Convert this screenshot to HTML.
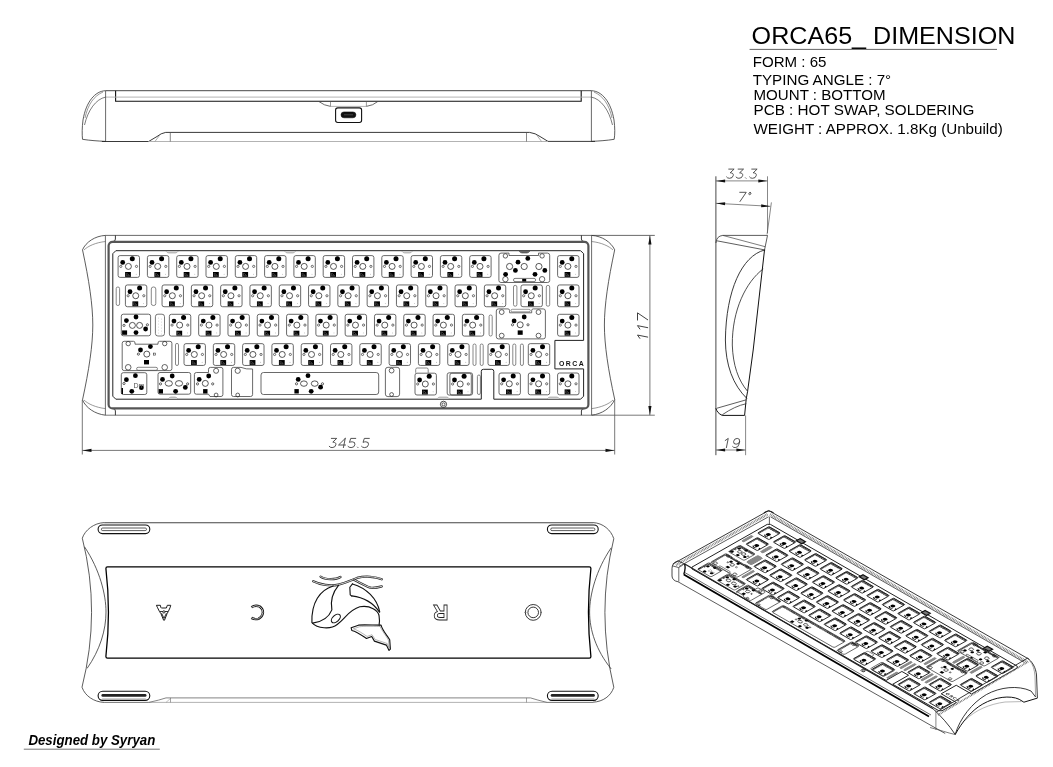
<!DOCTYPE html><html><head><meta charset="utf-8"><style>
html,body{margin:0;padding:0;background:#fff;}
svg{display:block;will-change:transform;}
text{font-family:"Liberation Sans",sans-serif;}
.isoplate *{vector-effect:non-scaling-stroke;}
</style></head><body>
<svg width="1053" height="767" viewBox="0 0 1053 767">
<rect width="1053" height="767" fill="#fff"/>

<defs>
<g id="sw">
 <rect x="0.4" y="0.4" width="21.4" height="21.8" rx="2" fill="#fff" stroke="#444" stroke-width="0.8"/>
 <circle cx="14.6" cy="3.5" r="2.5" fill="#000"/>
 <circle cx="5.0" cy="7.2" r="2.4" fill="#000"/>
 <circle cx="10.7" cy="11.2" r="3.0" fill="none" stroke="#222" stroke-width="0.75"/>
 <circle cx="3.1" cy="11.2" r="1.1" fill="none" stroke="#333" stroke-width="0.7"/>
 <circle cx="18.8" cy="11.2" r="1.1" fill="none" stroke="#333" stroke-width="0.7"/>
 <rect x="7.4" y="16.8" width="5.8" height="4.9" fill="#000"/>
 <path d="M8.6,17.8 V20.6 H12 M9.2,18.2 L11.6,20.2" stroke="#888" stroke-width="0.45" fill="none"/>
 <circle cx="18.5" cy="19" r="0.4" fill="#777"/>
</g>
<g id="isok">
 <rect x="0.4" y="0.4" width="21.4" height="21.8" rx="1.2" fill="#fff" stroke="#222" stroke-width="1.4"/>
 <path d="M1.5,2.2 H21" stroke="#111" stroke-width="4" stroke-dasharray="1.4 0.6" fill="none"/>
 <path d="M1.6,3 V21" stroke="#222" stroke-width="2.8" stroke-dasharray="1.4 0.7" fill="none"/>
 <ellipse cx="12.8" cy="14.2" rx="3.4" ry="3.2" fill="#000"/>
 <path d="M9.5,17.5 Q12.5,21.5 16.5,18.5" stroke="#111" stroke-width="1.6" fill="none"/>
 <path d="M18.5,15.5 L21.6,15.5 L21.6,20 Z" fill="#000"/>
</g>
</defs>

<text x="751.6" y="43.9" font-size="24.6" fill="#000" textLength="263.8" lengthAdjust="spacingAndGlyphs">ORCA65_ DIMENSION</text>
<line x1="749.6" y1="49.4" x2="997" y2="49.4" stroke="#555" stroke-width="0.9"/>
<text x="752.7" y="67.4" font-size="14.1" fill="#000" textLength="73.8" lengthAdjust="spacingAndGlyphs">FORM : 65</text>
<text x="752.7" y="84.6" font-size="14.1" fill="#000" textLength="138.5" lengthAdjust="spacingAndGlyphs">TYPING ANGLE : 7°</text>
<text x="753.5" y="100.0" font-size="14.1" fill="#000" textLength="132.0" lengthAdjust="spacingAndGlyphs">MOUNT : BOTTOM</text>
<text x="753.5" y="115.4" font-size="14.1" fill="#000" textLength="221.0" lengthAdjust="spacingAndGlyphs">PCB : HOT SWAP, SOLDERING</text>
<text x="753.5" y="134.1" font-size="14.1" fill="#000" textLength="249.2" lengthAdjust="spacingAndGlyphs">WEIGHT : APPROX. 1.8Kg (Unbuild)</text>
<text x="28.4" y="744.8" font-size="14.2" font-weight="bold" font-style="italic" fill="#000" textLength="126.9" lengthAdjust="spacingAndGlyphs">Designed by Syryan</text>
<line x1="23.8" y1="749.2" x2="159.8" y2="749.2" stroke="#666" stroke-width="0.9"/>
<g id="front">
<line x1="105.60" y1="90.70" x2="591.40" y2="90.70" stroke="#333" stroke-width="0.9"/>
<path d="M115.6,90.7 V101.2 H581.2 V90.7" stroke="#111" stroke-width="1.1" fill="none" />
<line x1="105.60" y1="97.10" x2="591.40" y2="97.10" stroke="#aaa" stroke-width="0.9"/>
<line x1="105.60" y1="90.70" x2="105.60" y2="141.40" stroke="#444" stroke-width="0.8"/>
<line x1="591.40" y1="90.70" x2="591.40" y2="141.40" stroke="#444" stroke-width="0.8"/>
<path d="M105.6,90.7 C95,91 86,102 83,120 C82,128 82,134 82.5,139.3 C90,140.5 98,141 105.6,141.4" stroke="#333" stroke-width="0.8" fill="none" />
<path d="M105.6,97.1 C96,99 88,110 84.5,125" stroke="#444" stroke-width="0.7" fill="none" />
<path d="M103,92 C94,96 88,104 85,118" stroke="#555" stroke-width="0.6" fill="none" />
<path d="M591.4,90.7 C602,91 611,102 614,120 C615,128 615,134 614.2,139.3 C607,140.5 599,141 591.4,141.4" stroke="#333" stroke-width="0.8" fill="none" />
<path d="M591.4,97.1 C601,99 609,110 612.5,125" stroke="#444" stroke-width="0.7" fill="none" />
<path d="M594,92 C603,96 609,104 612,118" stroke="#555" stroke-width="0.6" fill="none" />
<path d="M101.9,141.5 H148.6 L157,136.5 Q161,133.2 165.7,132.4 H529.6 Q535.5,133.2 540,136.5 L548,141.4 H595" stroke="#222" stroke-width="0.9" fill="none" />
<line x1="148.60" y1="141.50" x2="548.00" y2="141.50" stroke="#aaa" stroke-width="0.9"/>
<line x1="170.30" y1="132.40" x2="170.30" y2="141.50" stroke="#555" stroke-width="0.7"/>
<line x1="526.50" y1="132.40" x2="526.50" y2="141.50" stroke="#555" stroke-width="0.7"/>
<line x1="155.00" y1="141.40" x2="159.50" y2="135.50" stroke="#777" stroke-width="0.6"/>
<line x1="541.50" y1="141.40" x2="537.00" y2="135.50" stroke="#777" stroke-width="0.6"/>
<path d="M319,101.6 Q324,105.5 330.5,106.4" stroke="#444" stroke-width="0.8" fill="none" />
<path d="M366.4,106.4 Q373,105.5 377.7,101.6" stroke="#444" stroke-width="0.8" fill="none" />
<line x1="330.50" y1="106.40" x2="366.40" y2="106.40" stroke="#aaa" stroke-width="0.9"/>
<line x1="330.50" y1="101.60" x2="330.50" y2="106.40" stroke="#555" stroke-width="0.6"/>
<line x1="366.40" y1="101.60" x2="366.40" y2="106.40" stroke="#555" stroke-width="0.6"/>
<rect x="335.6" y="107.9" width="26" height="14.6" rx="2.2" fill="none" stroke="#111" stroke-width="1.1"/>
<rect x="341" y="111.9" width="14.9" height="5.9" rx="2.95" fill="#111" stroke="#000" stroke-width="0.5"/>
<line x1="344.00" y1="114.80" x2="353.00" y2="114.80" stroke="#777" stroke-width="0.5"/>
</g>
<g id="top">
<line x1="105.40" y1="235.40" x2="654.80" y2="235.40" stroke="#444" stroke-width="0.8"/>
<line x1="105.40" y1="415.20" x2="591.60" y2="415.20" stroke="#555" stroke-width="0.8"/>
<line x1="591.60" y1="415.20" x2="654.80" y2="415.20" stroke="#555" stroke-width="0.8"/>
<line x1="105.40" y1="235.40" x2="105.40" y2="415.20" stroke="#444" stroke-width="0.8"/>
<line x1="591.60" y1="235.40" x2="591.60" y2="415.20" stroke="#444" stroke-width="0.8"/>
<path d="M105.4,235.4 C95,236 86,242 82.5,249.8 C89,280 92.8,305 92.8,325 C92.8,345 89,370 82.5,399.9 C86,408 95,414 105.4,415.2" stroke="#333" stroke-width="0.8" fill="none" />
<path d="M105.4,241.5 C96,242.5 88,246 84,250" stroke="#555" stroke-width="0.6" fill="none" />
<path d="M105.4,408.6 C96,407.5 88,404 84,400" stroke="#555" stroke-width="0.6" fill="none" />
<path d="M591.6,235.4 C602,236 611,242 614.7,249.8 C608.2,280 604.4,305 604.4,325 C604.4,345 608.2,370 614.7,399.4 C611,408 602,414 591.6,415.2" stroke="#333" stroke-width="0.8" fill="none" />
<path d="M591.6,241.5 C601,242.5 609,246 613,250" stroke="#555" stroke-width="0.6" fill="none" />
<path d="M591.6,408.6 C601,407.5 609,404 613,400" stroke="#555" stroke-width="0.6" fill="none" />
<path d="M115.4,235.4 V239 Q115.4,241.5 113,241.5" stroke="#222" stroke-width="0.9" fill="none" />
<path d="M581.4,235.4 V239 Q581.4,241.5 584,241.5" stroke="#222" stroke-width="0.9" fill="none" />
<path d="M115.4,415.2 V411 Q115.4,408.6 113,408.6" stroke="#222" stroke-width="0.9" fill="none" />
<path d="M581.4,415.2 V411 Q581.4,408.6 584,408.6" stroke="#222" stroke-width="0.9" fill="none" />
<rect x="108.6" y="241.8" width="479.8" height="166.6" rx="4" fill="none" stroke="#555" stroke-width="2.2"/>
<path d="M115.8,250.7 H580.6 L583.6,253.7 V340.4 H554.9 V368.9 H583.6 V396.2 L580.6,399.2 H493.8 V371.3 Q493.8,369.3 491.8,369.3 H483.3 Q481.3,369.3 481.3,371.3 V399.2 H115.8 L112.8,396.2 V253.7 Z" stroke="#222" stroke-width="1.0" fill="none" />
<path d="M165.8,251 Q167.3,253 168.8,253 H175.4 Q176.9,253 178.4,251" fill="#ccc" stroke="#999" stroke-width="0.6"/>
<path d="M284.4,251 Q285.9,253 287.4,253 H292.8 Q294.3,253 295.8,251" fill="#ccc" stroke="#999" stroke-width="0.6"/>
<path d="M401.6,251 Q403.1,253 404.6,253 H409.6 Q411.1,253 412.6,251" fill="#ccc" stroke="#999" stroke-width="0.6"/>
<path d="M518.9,251 Q520.4,253 522,253 H527 Q528.5,253 530,251" fill="#666" stroke="#444" stroke-width="0.6"/>
<path d="M168,399 Q169.5,397 171,397 H175 Q176.5,397 178,399" fill="#ccc" stroke="#999" stroke-width="0.6"/>
<path d="M436.8,399 Q438.3,397 439.8,397 H446.6 Q448.1,397 449.6,399" fill="#ccc" stroke="#999" stroke-width="0.6"/>
<path d="M547,399 Q548.5,397 550,397 H556.8 Q558.3,397 559.8,399" fill="#ccc" stroke="#999" stroke-width="0.6"/>
</g>
<g id="keys">
<use href="#sw" x="117.70" y="255.20"/>
<use href="#sw" x="147.00" y="255.20"/>
<use href="#sw" x="176.30" y="255.20"/>
<use href="#sw" x="205.60" y="255.20"/>
<use href="#sw" x="234.90" y="255.20"/>
<use href="#sw" x="264.20" y="255.20"/>
<use href="#sw" x="293.50" y="255.20"/>
<use href="#sw" x="322.80" y="255.20"/>
<use href="#sw" x="352.10" y="255.20"/>
<use href="#sw" x="381.40" y="255.20"/>
<use href="#sw" x="410.70" y="255.20"/>
<use href="#sw" x="440.00" y="255.20"/>
<use href="#sw" x="469.30" y="255.20"/>
<use href="#sw" x="557.20" y="255.20"/>
<path d="M501,253.1 H509 V255.5 H538.5 V253.1 H547.5 Q549.7,253.1 549.7,255.5 V280.5 Q549.7,282.5 547.5,282.5 H501 Q498.9,282.5 498.9,280.5 V255.5 Q498.9,253.1 501,253.1 Z" stroke="#444" stroke-width="0.8" fill="none" />
<circle cx="505.40" cy="255.90" r="2.2" fill="none" stroke="#222" stroke-width="0.7"/>
<circle cx="542.10" cy="255.90" r="2.2" fill="none" stroke="#222" stroke-width="0.7"/>
<circle cx="505.40" cy="279.20" r="2.7" fill="none" stroke="#222" stroke-width="0.7"/>
<circle cx="542.10" cy="279.20" r="2.7" fill="none" stroke="#222" stroke-width="0.7"/>
<circle cx="509.60" cy="266.50" r="3.1" fill="none" stroke="#222" stroke-width="0.75"/>
<circle cx="524.20" cy="266.50" r="3.1" fill="none" stroke="#222" stroke-width="0.75"/>
<circle cx="538.90" cy="266.50" r="3.1" fill="none" stroke="#222" stroke-width="0.75"/>
<circle cx="527.80" cy="258.40" r="2.4" fill="#000"/>
<circle cx="518.00" cy="262.20" r="2.4" fill="#000"/>
<circle cx="515.40" cy="270.40" r="2.4" fill="#000"/>
<circle cx="505.60" cy="274.30" r="2.4" fill="#000"/>
<circle cx="535.00" cy="274.30" r="2.4" fill="#000"/>
<circle cx="544.80" cy="270.40" r="2.4" fill="#000"/>
<rect x="513.50" y="278.40" width="22.10" height="3.20" rx="1.5" fill="none" stroke="#444" stroke-width="0.7"/>
<rect x="522.20" y="278.90" width="4" height="2.6" fill="#000"/>
<use href="#sw" x="125.02" y="284.55"/>
<rect x="116.20" y="287.00" width="3.40" height="18.50" rx="1.6" fill="none" stroke="#555" stroke-width="0.7"/>
<rect x="151.30" y="287.00" width="4.50" height="18.50" rx="2" fill="none" stroke="#555" stroke-width="0.7"/>
<use href="#sw" x="161.65" y="284.55"/>
<use href="#sw" x="190.95" y="284.55"/>
<use href="#sw" x="220.25" y="284.55"/>
<use href="#sw" x="249.55" y="284.55"/>
<use href="#sw" x="278.85" y="284.55"/>
<use href="#sw" x="308.15" y="284.55"/>
<use href="#sw" x="337.45" y="284.55"/>
<use href="#sw" x="366.75" y="284.55"/>
<use href="#sw" x="396.05" y="284.55"/>
<use href="#sw" x="425.35" y="284.55"/>
<use href="#sw" x="454.65" y="284.55"/>
<use href="#sw" x="483.95" y="284.55"/>
<use href="#sw" x="520.58" y="284.55"/>
<rect x="513.50" y="285.40" width="3.40" height="20.80" rx="1.6" fill="none" stroke="#555" stroke-width="0.7"/>
<rect x="546.30" y="285.40" width="3.40" height="20.80" rx="1.6" fill="none" stroke="#555" stroke-width="0.7"/>
<use href="#sw" x="557.20" y="284.55"/>
<rect x="121.30" y="314.20" width="29.30" height="21.60" rx="2" fill="none" stroke="#444" stroke-width="0.8"/>
<circle cx="136.00" cy="317.00" r="2.4" fill="#000"/>
<circle cx="126.40" cy="320.60" r="2.4" fill="#000"/>
<circle cx="145.60" cy="329.00" r="2.4" fill="#000"/>
<circle cx="136.00" cy="332.60" r="2.4" fill="#000"/>
<circle cx="132.40" cy="325.40" r="3" fill="none" stroke="#222" stroke-width="0.75"/>
<circle cx="139.60" cy="325.40" r="3" fill="none" stroke="#222" stroke-width="0.75"/>
<circle cx="124.00" cy="325.40" r="1.1" fill="none" stroke="#222" stroke-width="0.7"/>
<circle cx="147.40" cy="324.80" r="1.1" fill="none" stroke="#222" stroke-width="0.7"/>
<rect x="122.10" y="330.40" width="5" height="4.4" fill="#000"/>
<rect x="155.40" y="314.20" width="9.10" height="21.80" rx="2.5" fill="none" stroke="#555" stroke-width="0.8"/>
<circle cx="158.5" cy="318" r="0.35" fill="#666"/><circle cx="161.5" cy="319" r="0.35" fill="#666"/>
<circle cx="158.5" cy="321" r="0.35" fill="#666"/><circle cx="161.5" cy="322" r="0.35" fill="#666"/>
<circle cx="158.5" cy="324" r="0.35" fill="#666"/><circle cx="161.5" cy="325" r="0.35" fill="#666"/>
<circle cx="158.5" cy="327" r="0.35" fill="#666"/><circle cx="161.5" cy="328" r="0.35" fill="#666"/>
<circle cx="158.5" cy="330" r="0.35" fill="#666"/><circle cx="161.5" cy="331" r="0.35" fill="#666"/>
<circle cx="158.5" cy="333" r="0.35" fill="#666"/><circle cx="161.5" cy="334" r="0.35" fill="#666"/>
<use href="#sw" x="168.97" y="313.90"/>
<use href="#sw" x="198.27" y="313.90"/>
<use href="#sw" x="227.57" y="313.90"/>
<use href="#sw" x="256.88" y="313.90"/>
<use href="#sw" x="286.17" y="313.90"/>
<use href="#sw" x="315.48" y="313.90"/>
<use href="#sw" x="344.77" y="313.90"/>
<use href="#sw" x="374.07" y="313.90"/>
<use href="#sw" x="403.38" y="313.90"/>
<use href="#sw" x="432.68" y="313.90"/>
<use href="#sw" x="461.98" y="313.90"/>
<rect x="489.10" y="315.00" width="3.10" height="21.00" rx="1.5" fill="none" stroke="#555" stroke-width="0.7"/>
<path d="M498.5,308.9 H508 Q509.6,308.9 509.6,310.5 V312.8 H531.7 V310.5 Q531.7,308.9 533.3,308.9 H543.2 Q545.4,308.9 545.4,311 V336.8 Q545.4,338.9 543.2,338.9 H498.5 Q496.3,338.9 496.3,336.8 V311 Q496.3,308.9 498.5,308.9 Z" stroke="#444" stroke-width="0.8" fill="none" />
<rect x="511.00" y="309.30" width="19.30" height="2.50" rx="1.2" fill="none" stroke="#555" stroke-width="0.6"/>
<circle cx="501.70" cy="312.10" r="2.4" fill="none" stroke="#222" stroke-width="0.7"/>
<circle cx="538.50" cy="312.10" r="2.4" fill="none" stroke="#222" stroke-width="0.7"/>
<circle cx="501.70" cy="335.60" r="2.4" fill="none" stroke="#222" stroke-width="0.7"/>
<circle cx="538.50" cy="335.60" r="2.4" fill="none" stroke="#222" stroke-width="0.7"/>
<circle cx="524.20" cy="317.00" r="2.4" fill="#000"/>
<circle cx="514.10" cy="320.90" r="2.4" fill="#000"/>
<circle cx="520.20" cy="324.80" r="3" fill="none" stroke="#222" stroke-width="0.75"/>
<circle cx="512.50" cy="324.80" r="1.1" fill="none" stroke="#222" stroke-width="0.7"/>
<circle cx="528.00" cy="324.80" r="1.1" fill="none" stroke="#222" stroke-width="0.7"/>
<rect x="517.70" y="330.40" width="5" height="4.4" fill="#000"/>
<use href="#sw" x="557.20" y="313.90"/>
<path d="M124.2,341.3 H133.5 Q135,341.3 135,343 V344.2 H158 V343 Q158,341.3 159.6,341.3 H169.9 Q171.9,341.3 171.9,343.3 V368.6 Q171.9,370.6 169.9,370.6 H124.2 Q122.2,370.6 122.2,368.6 V343.3 Q122.2,341.3 124.2,341.3 Z" stroke="#444" stroke-width="0.8" fill="none" />
<circle cx="128.20" cy="343.60" r="2.2" fill="none" stroke="#222" stroke-width="0.7"/>
<circle cx="164.70" cy="343.60" r="2.2" fill="none" stroke="#222" stroke-width="0.7"/>
<circle cx="128.20" cy="367.30" r="2.8" fill="none" stroke="#222" stroke-width="0.7"/>
<circle cx="164.70" cy="367.30" r="2.8" fill="none" stroke="#222" stroke-width="0.7"/>
<rect x="136.60" y="367.30" width="20.90" height="3.00" rx="1.5" fill="none" stroke="#555" stroke-width="0.7"/>
<circle cx="150.40" cy="346.60" r="2.4" fill="#000"/>
<circle cx="140.50" cy="350.00" r="2.4" fill="#000"/>
<circle cx="146.80" cy="354.10" r="3" fill="none" stroke="#222" stroke-width="0.75"/>
<circle cx="138.40" cy="354.10" r="1.1" fill="none" stroke="#222" stroke-width="0.7"/>
<rect x="153.6" y="353.1" width="2" height="2" fill="none" stroke="#333" stroke-width="0.6"/>
<rect x="144.00" y="360.00" width="5" height="4.4" fill="#000"/>
<rect x="175.50" y="343.40" width="3.00" height="22.10" rx="1.5" fill="none" stroke="#555" stroke-width="0.7"/>
<use href="#sw" x="183.62" y="343.25"/>
<use href="#sw" x="212.93" y="343.25"/>
<use href="#sw" x="242.22" y="343.25"/>
<use href="#sw" x="271.52" y="343.25"/>
<use href="#sw" x="300.82" y="343.25"/>
<use href="#sw" x="330.12" y="343.25"/>
<use href="#sw" x="359.42" y="343.25"/>
<use href="#sw" x="388.73" y="343.25"/>
<use href="#sw" x="418.02" y="343.25"/>
<use href="#sw" x="447.32" y="343.25"/>
<rect x="473.00" y="344.00" width="3.00" height="21.50" rx="1.5" fill="none" stroke="#555" stroke-width="0.7"/>
<rect x="480.20" y="344.00" width="3.00" height="21.50" rx="1.5" fill="none" stroke="#555" stroke-width="0.7"/>
<use href="#sw" x="487.61" y="343.25"/>
<rect x="512.80" y="344.00" width="3.00" height="21.50" rx="1.5" fill="none" stroke="#555" stroke-width="0.7"/>
<rect x="520.40" y="344.00" width="3.00" height="21.50" rx="1.5" fill="none" stroke="#555" stroke-width="0.7"/>
<use href="#sw" x="527.90" y="343.25"/>
<text x="559" y="365.8" font-size="6.9" font-weight="bold" fill="#111" textLength="24.8" lengthAdjust="spacing">ORCA</text>
<rect x="121.30" y="372.70" width="25.50" height="21.80" rx="2" fill="none" stroke="#444" stroke-width="0.8"/>
<circle cx="135.40" cy="375.70" r="2.4" fill="#000"/>
<circle cx="126.40" cy="379.70" r="2.4" fill="#000"/>
<circle cx="141.40" cy="387.70" r="2.4" fill="#000"/>
<circle cx="131.80" cy="391.30" r="2.4" fill="#000"/>
<text x="133.4" y="387.6" font-size="7" font-family="Liberation Serif" fill="#555">Dm</text>
<circle cx="124.00" cy="383.50" r="1.1" fill="none" stroke="#222" stroke-width="0.7"/>
<rect x="121.5" y="388" width="1.5" height="6" fill="#000"/>
<rect x="158.00" y="372.50" width="32.70" height="21.70" rx="2" fill="none" stroke="#444" stroke-width="0.8"/>
<circle cx="172.20" cy="376.00" r="2.4" fill="#000"/>
<circle cx="162.50" cy="379.40" r="2.4" fill="#000"/>
<circle cx="185.30" cy="387.40" r="2.4" fill="#000"/>
<circle cx="175.60" cy="391.30" r="2.4" fill="#000"/>
<ellipse cx="168.8" cy="383.4" rx="3.6" ry="2.8" fill="none" stroke="#222" stroke-width="0.75"/>
<ellipse cx="179" cy="383.4" rx="3.6" ry="2.8" fill="none" stroke="#222" stroke-width="0.75"/>
<circle cx="160.50" cy="383.90" r="1.1" fill="none" stroke="#222" stroke-width="0.7"/>
<circle cx="187.60" cy="383.90" r="1.1" fill="none" stroke="#222" stroke-width="0.7"/>
<rect x="158.60" y="389.10" width="4.4" height="4.4" fill="#000"/>
<path d="M196.4,372.5 H208.5 V369.4 Q208.5,367.4 210.5,367.4 H221 Q222.9,367.4 222.9,369.4 V394.5 Q222.9,396.5 221,396.5 H210 L208.5,394.2 H196.4 Q194.4,394.2 194.4,392.2 V374.5 Q194.4,372.5 196.4,372.5 Z" stroke="#444" stroke-width="0.8" fill="none" />
<circle cx="208.70" cy="376.00" r="2.4" fill="#000"/>
<circle cx="199.20" cy="379.40" r="2.4" fill="#000"/>
<circle cx="205.30" cy="383.40" r="3" fill="none" stroke="#222" stroke-width="0.75"/>
<circle cx="197.50" cy="383.90" r="1.1" fill="none" stroke="#222" stroke-width="0.7"/>
<circle cx="212.70" cy="383.90" r="1.1" fill="none" stroke="#222" stroke-width="0.7"/>
<rect x="203.10" y="389.10" width="4.4" height="4.4" fill="#000"/>
<circle cx="216.10" cy="370.80" r="2.5" fill="none" stroke="#222" stroke-width="0.7"/>
<circle cx="216.10" cy="395.00" r="1.9" fill="none" stroke="#222" stroke-width="0.7"/>
<path d="M233.5,367.4 H241 Q246,369.5 252.6,369 V394.5 Q252.6,396.5 250.6,396.5 H233.5 Q231.5,396.5 231.5,394.5 V369.4 Q231.5,367.4 233.5,367.4 Z" stroke="#444" stroke-width="0.8" fill="none" />
<circle cx="237.70" cy="370.80" r="2.6" fill="none" stroke="#222" stroke-width="0.7"/>
<circle cx="237.70" cy="395.00" r="1.9" fill="none" stroke="#222" stroke-width="0.7"/>
<rect x="261.00" y="372.50" width="117.70" height="22.00" rx="2.5" fill="none" stroke="#444" stroke-width="0.8"/>
<circle cx="308.00" cy="375.70" r="2.4" fill="#000"/>
<circle cx="298.20" cy="379.40" r="2.4" fill="#000"/>
<circle cx="320.60" cy="387.20" r="2.4" fill="#000"/>
<circle cx="311.20" cy="391.30" r="2.4" fill="#000"/>
<ellipse cx="303.9" cy="383.6" rx="3.4" ry="2.7" fill="none" stroke="#222" stroke-width="0.75"/>
<ellipse cx="314.7" cy="383.6" rx="3.4" ry="2.7" fill="none" stroke="#222" stroke-width="0.75"/>
<circle cx="296.50" cy="383.80" r="1.1" fill="none" stroke="#222" stroke-width="0.7"/>
<circle cx="322.50" cy="383.80" r="1.1" fill="none" stroke="#222" stroke-width="0.7"/>
<rect x="294.40" y="389.10" width="4.4" height="4.4" fill="#000"/>
<rect x="385.40" y="367.30" width="14.20" height="29.30" rx="2.5" fill="none" stroke="#444" stroke-width="0.8"/>
<circle cx="391.60" cy="370.60" r="2.4" fill="none" stroke="#222" stroke-width="0.7"/>
<circle cx="391.60" cy="394.50" r="1.9" fill="none" stroke="#222" stroke-width="0.7"/>
<use href="#sw" x="414.60" y="372.80"/>
<path d="M415.7,372.8 V369.5 Q415.7,368 417.2,368 H426.8 Q428.2,368 428.2,369.5 V372.8" stroke="#555" stroke-width="0.7" fill="none" />
<use href="#sw" x="449.50" y="372.80"/>
<rect x="447.20" y="372.80" width="25.40" height="22.30" rx="2" fill="none" stroke="#444" stroke-width="0.8"/>
<rect x="477.40" y="375.00" width="3.00" height="19.50" rx="1.5" fill="none" stroke="#555" stroke-width="0.7"/>
<use href="#sw" x="498.60" y="372.60"/>
<use href="#sw" x="527.90" y="372.60"/>
<use href="#sw" x="557.20" y="372.60"/>
<circle cx="443.50" cy="404.30" r="3.1" fill="none" stroke="#222" stroke-width="0.8"/>
<circle cx="443.50" cy="404.30" r="1.5" fill="none" stroke="#222" stroke-width="0.7"/>
</g>
<g id="dims">
<line x1="82.30" y1="400.00" x2="82.30" y2="454.50" stroke="#555" stroke-width="0.8"/>
<line x1="614.70" y1="399.50" x2="614.70" y2="454.50" stroke="#555" stroke-width="0.8"/>
<line x1="82.30" y1="450.40" x2="614.70" y2="450.40" stroke="#555" stroke-width="0.8"/>
<path d="M82.50,450.40 L91.50,448.80 L91.50,452.00 Z" fill="#111"/>
<path d="M614.50,450.40 L605.50,452.00 L605.50,448.80 Z" fill="#111"/>
<g transform="" fill="none" stroke="#333" stroke-width="0.8" stroke-linecap="round" stroke-linejoin="round">
<path transform="matrix(1.0,0,-0.200,1.0,330.44,438.40)" d="M0.9,0 H6.3 L3.1,3.7 Q6.7,3.9 6.7,6.4 Q6.7,9.2 3.5,9.2 Q1.3,9.2 0.3,7.9"/>
<path transform="matrix(1.0,0,-0.200,1.0,339.84,438.40)" d="M5.4,0 L0,6.6 H7 M5.4,0 V9.2"/>
<path transform="matrix(1.0,0,-0.200,1.0,349.24,438.40)" d="M6.5,0 H1.5 L1,4 Q2.1,3.4 3.7,3.4 Q6.9,3.4 6.9,6.3 Q6.9,9.2 3.7,9.2 Q1.4,9.2 0.3,8"/>
<path transform="matrix(1.0,0,-0.200,1.0,358.64,438.40)" d="M0.6,8.7 L1.2,9.2"/>
<path transform="matrix(1.0,0,-0.200,1.0,362.84,438.40)" d="M6.5,0 H1.5 L1,4 Q2.1,3.4 3.7,3.4 Q6.9,3.4 6.9,6.3 Q6.9,9.2 3.7,9.2 Q1.4,9.2 0.3,8"/>
</g>
<line x1="649.90" y1="235.40" x2="649.90" y2="415.20" stroke="#555" stroke-width="0.8"/>
<path d="M649.90,235.60 L651.50,244.60 L648.30,244.60 Z" fill="#111"/>
<path d="M649.90,415.00 L648.30,406.00 L651.50,406.00 Z" fill="#111"/>
<g transform="rotate(-90 0 0) " fill="none" stroke="#333" stroke-width="0.8" stroke-linecap="round" stroke-linejoin="round">
<path transform="matrix(1.108695652173913,0,-0.222,1.108695652173913,-339.26,637.50)" d="M1.2,2.1 L3.8,0 V9.2"/>
<path transform="matrix(1.108695652173913,0,-0.222,1.108695652173913,-329.84,637.50)" d="M1.2,2.1 L3.8,0 V9.2"/>
<path transform="matrix(1.108695652173913,0,-0.222,1.108695652173913,-320.41,637.50)" d="M0.3,0 H6.8 L2.4,9.2"/>
</g>
</g>
<g id="side">
<line x1="715.90" y1="176.30" x2="715.90" y2="455.20" stroke="#333" stroke-width="0.9"/>
<line x1="767.50" y1="176.30" x2="767.50" y2="233.00" stroke="#555" stroke-width="0.7"/>
<line x1="715.90" y1="180.90" x2="767.50" y2="180.90" stroke="#555" stroke-width="0.7"/>
<path d="M716.10,180.90 L725.10,179.40 L725.10,182.40 Z" fill="#111"/>
<path d="M767.30,180.90 L758.30,182.40 L758.30,179.40 Z" fill="#111"/>
<g transform="" fill="none" stroke="#333" stroke-width="0.8" stroke-linecap="round" stroke-linejoin="round">
<path transform="matrix(1.0,0,-0.200,1.0,727.84,169.10)" d="M0.9,0 H6.3 L3.1,3.7 Q6.7,3.9 6.7,6.4 Q6.7,9.2 3.5,9.2 Q1.3,9.2 0.3,7.9"/>
<path transform="matrix(1.0,0,-0.200,1.0,737.24,169.10)" d="M0.9,0 H6.3 L3.1,3.7 Q6.7,3.9 6.7,6.4 Q6.7,9.2 3.5,9.2 Q1.3,9.2 0.3,7.9"/>
<path transform="matrix(1.0,0,-0.200,1.0,746.64,169.10)" d="M0.6,8.7 L1.2,9.2"/>
<path transform="matrix(1.0,0,-0.200,1.0,750.84,169.10)" d="M0.9,0 H6.3 L3.1,3.7 Q6.7,3.9 6.7,6.4 Q6.7,9.2 3.5,9.2 Q1.3,9.2 0.3,7.9"/>
</g>
<line x1="715.90" y1="203.30" x2="770.40" y2="206.30" stroke="#555" stroke-width="0.7"/>
<path d="M716.10,203.30 L725.17,202.30 L725.00,205.29 Z" fill="#111"/>
<path d="M770.20,206.30 L761.13,207.30 L761.30,204.31 Z" fill="#111"/>
<g transform="" fill="none" stroke="#333" stroke-width="0.8" stroke-linecap="round" stroke-linejoin="round">
<path transform="matrix(1.0,0,-0.200,1.0,739.44,192.30)" d="M0.3,0 H6.8 L2.4,9.2"/>
<path transform="matrix(1.0,0,-0.200,1.0,748.84,192.30)" d="M1.3,0.2 A1.1,1.1 0 1 1 1.29,0.2 Z"/>
</g>
<line x1="771.40" y1="202.40" x2="767.10" y2="234.30" stroke="#555" stroke-width="0.7"/>
<path d="M715.9,243 Q716.5,236 722.8,235.4 H767.5 L764.5,250" stroke="#333" stroke-width="0.8" fill="none" />
<line x1="716.90" y1="240.80" x2="765.20" y2="250.00" stroke="#333" stroke-width="0.8"/>
<line x1="722.80" y1="235.40" x2="765.20" y2="246.70" stroke="#444" stroke-width="0.7"/>
<path d="M764.5,250 L753.2,350 L747.6,391.3 L746.2,399 L744.6,415.4 H722.2 Q717,413 715.9,408.2" stroke="#111" stroke-width="1.0" fill="none" />
<path d="M764.5,250 C742,256 726,290 725.4,340 C725.5,365 733,385 746.9,398.5" stroke="#222" stroke-width="0.9" fill="none" />
<path d="M763.2,268.9 C746,282 732,310 732.3,345 C733,365 738,380 747.6,391.3" stroke="#222" stroke-width="0.8" fill="none" />
<line x1="717.00" y1="408.20" x2="746.30" y2="399.80" stroke="#333" stroke-width="0.8"/>
<path d="M722.2,414.8 Q735,406 746.3,403.7" stroke="#333" stroke-width="0.8" fill="none" />
<line x1="745.60" y1="415.40" x2="745.60" y2="455.20" stroke="#555" stroke-width="0.7"/>
<line x1="715.90" y1="450.00" x2="745.60" y2="450.00" stroke="#555" stroke-width="0.7"/>
<path d="M716.10,450.00 L725.10,448.50 L725.10,451.50 Z" fill="#111"/>
<path d="M745.40,450.00 L736.40,451.50 L736.40,448.50 Z" fill="#111"/>
<g transform="" fill="none" stroke="#333" stroke-width="0.8" stroke-linecap="round" stroke-linejoin="round">
<path transform="matrix(1.0,0,-0.200,1.0,724.44,438.40)" d="M1.2,2.1 L3.8,0 V9.2"/>
<path transform="matrix(1.0,0,-0.200,1.0,733.84,438.40)" d="M6.4,3 Q6.4,0 3.4,0 Q0.4,0 0.4,3 Q0.4,5.8 3.4,5.8 Q6.4,5.8 6.4,3 V5.5 Q6.4,9.2 3.2,9.2 Q1.2,9.2 0.4,8.2"/>
</g>
</g>
<g id="bottom">
<line x1="104.20" y1="522.80" x2="593.00" y2="522.80" stroke="#444" stroke-width="1.1"/>
<line x1="104.20" y1="702.40" x2="148.90" y2="702.40" stroke="#666" stroke-width="0.9"/>
<line x1="148.90" y1="702.40" x2="547.00" y2="702.40" stroke="#aaa" stroke-width="0.9"/>
<line x1="547.00" y1="702.40" x2="593.00" y2="702.40" stroke="#666" stroke-width="0.9"/>
<path d="M104.2,522.6 C94,523 85,530 82.3,538.2 Q101,612 82,687.2 C85,696 94,702 104.2,702.4" stroke="#333" stroke-width="0.8" fill="none" />
<path d="M84.5,546.8 C100,570 106,595 106,612 C106,630 100,650 87.1,668.4" stroke="#333" stroke-width="0.8" fill="none" />
<path d="M593,522.6 C603,523 611,530 613.8,538.7 Q596,612 613.8,687.3 C611,696 603,701.7 593,702.2" stroke="#333" stroke-width="0.8" fill="none" />
<path d="M611.2,547.8 C596,570 589.6,595 589.6,612 C589.6,630 596,650 611.2,669" stroke="#333" stroke-width="0.8" fill="none" />
<path d="M107.5,566.8 H589.3 Q590.9,566.8 590.9,568.5 Q586,612 590.9,656.5 Q590.9,658.1 589.3,658.1 H107.5 Q105.9,658.1 105.9,656.5 Q111,612 105.9,568.5 Q105.9,566.8 107.5,566.8 Z" stroke="#000" stroke-width="1.3" fill="none" />
<rect x="98.10" y="525.00" width="51.70" height="8.60" rx="4.3" fill="none" stroke="#111" stroke-width="1.1"/>
<rect x="101.40" y="528.00" width="45.10" height="2.60" rx="1.3" fill="none" stroke="#333" stroke-width="0.8"/>
<rect x="98.10" y="691.20" width="51.70" height="9.20" rx="4.6" fill="none" stroke="#111" stroke-width="1.1"/>
<rect x="101.4" y="694.0" width="45.1" height="2.8" rx="1.4" fill="#222"/>
<line x1="102.10" y1="699.00" x2="145.80" y2="699.00" stroke="#999" stroke-width="0.9"/>
<rect x="547.40" y="525.00" width="50.80" height="8.60" rx="4.3" fill="none" stroke="#111" stroke-width="1.1"/>
<rect x="550.70" y="528.00" width="44.20" height="2.60" rx="1.3" fill="none" stroke="#333" stroke-width="0.8"/>
<rect x="547.40" y="691.20" width="50.80" height="9.20" rx="4.6" fill="none" stroke="#111" stroke-width="1.1"/>
<rect x="550.7" y="694.0" width="44.2" height="2.8" rx="1.4" fill="#222"/>
<line x1="551.40" y1="699.00" x2="594.20" y2="699.00" stroke="#999" stroke-width="0.9"/>
<path d="M148.9,702.4 Q160,700 166,697.9 H530.5 Q537,700 547,702.4" stroke="#666" stroke-width="0.8" fill="none" />
<line x1="170.50" y1="697.90" x2="170.50" y2="702.40" stroke="#666" stroke-width="0.6"/>
<line x1="526.50" y1="697.90" x2="526.50" y2="702.40" stroke="#666" stroke-width="0.6"/>
<line x1="166.00" y1="702.40" x2="171.00" y2="698.00" stroke="#888" stroke-width="0.5"/>
<path d="M156.4,605.3 H160.4 L160.75,607.3 L161.4,608 H166.4 L167.3,605.3 H170.75 L170,607.8 L168.25,611.6 L167,613.75 L164.5,620.2 H163.6 L161,613.75 L159.5,611.6 L157.3,607.2 Z" stroke="#111" stroke-width="0.95" fill="none" />
<path d="M159.8,611.5 H168 M161.6,613.2 L164,618.4 L166.4,613.2" stroke="#111" stroke-width="0.85" fill="none" />
<circle cx="163.9" cy="611.9" r="1.15" fill="#fff" stroke="#111" stroke-width="0.85"/>
<path d="M251.4,607.2 Q255.5,604.6 259.8,606.5 Q263.2,609.2 262.9,612.6 Q262.5,616.8 258.4,618.8 Q254.6,619.8 251.4,617.9" fill="none" stroke="#111" stroke-width="2.4"/>
<path d="M251.4,607.2 Q255.5,604.6 259.8,606.5 Q263.2,609.2 262.9,612.6 Q262.5,616.8 258.4,618.8 Q254.6,619.8 251.4,617.9" fill="none" stroke="#fff" stroke-width="0.7"/>
<g transform="rotate(180 440.7 612.6)"><text x="440.7" y="620.3" font-size="21.4" text-anchor="middle" fill="#fff" stroke="#222" stroke-width="0.8" font-weight="bold">R</text></g>
<circle cx="533.20" cy="612.40" r="7.9" fill="none" stroke="#222" stroke-width="0.9"/>
<circle cx="533.20" cy="612.40" r="5.3" fill="none" stroke="#222" stroke-width="0.9"/>
<line x1="524.50" y1="612.40" x2="526.50" y2="612.40" stroke="#444" stroke-width="0.6"/>
<line x1="540.00" y1="612.40" x2="542.00" y2="612.40" stroke="#444" stroke-width="0.6"/>
</g>
<g transform="translate(280,560) scale(0.13298)" fill="none" stroke="#111" stroke-width="8.5" stroke-linecap="round" stroke-linejoin="round">
<path d="M305,125 C340,150 420,150 455,128" stroke="#222" stroke-width="17"/>
<path d="M305,125 C340,150 420,150 455,128" stroke="#fff" stroke-width="6"/>
<path d="M250,160 C300,185 380,200 440,185 C500,170 540,150 580,135 C640,118 720,125 765,145" stroke="#222" stroke-width="17"/>
<path d="M250,160 C300,185 380,200 440,185 C500,170 540,150 580,135 C640,118 720,125 765,145" stroke="#fff" stroke-width="6"/>
<path d="M560,150 C600,170 640,195 680,208 C710,212 740,205 765,198" stroke="#222" stroke-width="17"/>
<path d="M560,150 C600,170 640,195 680,208 C710,212 740,205 765,198" stroke="#fff" stroke-width="6"/>
<path d="M400,195 C300,225 235,320 240,470 C280,515 380,525 430,485 C490,440 520,375 600,352 C680,338 740,380 745,420 C750,450 748,475 745,490"/>
<path d="M440,190 C390,250 380,320 390,375 C370,425 320,465 245,475"/>
<ellipse cx="420" cy="440" rx="40" ry="24" transform="rotate(-42 420 440)"/>
<path d="M545,180 C650,210 730,290 750,390"/>
<path d="M540,270 C620,280 700,320 748,392"/>
<path d="M545,180 L525,205 L528,262 L540,272"/>
<path d="M745,490 C700,490 620,485 590,490 L535,510 L540,530 C580,540 620,570 650,590 L690,575 L710,610 L800,640 L820,680 L830,670 L825,600 C800,560 770,530 760,490 Z"/>
<path d="M600,492 L740,488" stroke="#666" stroke-width="5"/>
<path d="M752,500 C730,500 625,497 598,502 L552,517 C590,530 625,555 655,575 L692,562 L716,598 L806,628 L822,664 L815,602 C795,565 768,535 752,500" stroke="#777" stroke-width="4"/>
</g>
<g id="iso">
<path d="M768.7,510.5 L1029.2,659.3" stroke="#222" stroke-width="0.9" fill="none" />
<path d="M770,514.3 L1027,661.8" stroke="#777" stroke-width="2.6" fill="none" stroke-dasharray="0.8 0.8"/>
<path d="M770.5,516.8 L1024.5,662.5" stroke="#333" stroke-width="0.8" fill="none" />
<path d="M768.7,510.5 L672.8,564.0" stroke="#222" stroke-width="0.9" fill="none" />
<path d="M767.5,514.3 L676,565" stroke="#777" stroke-width="2.6" fill="none" stroke-dasharray="0.8 0.8"/>
<path d="M768.5,516.8 L679,566.5" stroke="#333" stroke-width="0.8" fill="none" />
<path d="M764,513 Q768.7,509 773.5,513" stroke="#222" stroke-width="1.2" fill="none" />
<line x1="769.40" y1="516.70" x2="769.40" y2="524.20" stroke="#333" stroke-width="0.8"/>
</g>
<g transform="matrix(0.5311,0.3051,-0.5281,0.2998,841.3,413.9)" class="isoplate">
<path d="M115.8,250.7 H580.6 L583.6,253.7 V340.4 H554.9 V368.9 H583.6 V396.2 L580.6,399.2 H493.8 V369.3 H481.3 V399.2 H115.8 L112.8,396.2 V253.7 Z" stroke="#222" stroke-width="1.0" fill="none" />
<g >
<use href="#isok" x="117.70" y="255.20"/>
<use href="#isok" x="147.00" y="255.20"/>
<use href="#isok" x="176.30" y="255.20"/>
<use href="#isok" x="205.60" y="255.20"/>
<use href="#isok" x="234.90" y="255.20"/>
<use href="#isok" x="264.20" y="255.20"/>
<use href="#isok" x="293.50" y="255.20"/>
<use href="#isok" x="322.80" y="255.20"/>
<use href="#isok" x="352.10" y="255.20"/>
<use href="#isok" x="381.40" y="255.20"/>
<use href="#isok" x="410.70" y="255.20"/>
<use href="#isok" x="440.00" y="255.20"/>
<use href="#isok" x="469.30" y="255.20"/>
<use href="#isok" x="557.20" y="255.20"/>
<path d="M501,253.1 H509 V255.5 H538.5 V253.1 H547.5 Q549.7,253.1 549.7,255.5 V280.5 Q549.7,282.5 547.5,282.5 H501 Q498.9,282.5 498.9,280.5 V255.5 Q498.9,253.1 501,253.1 Z" stroke="#444" stroke-width="0.8" fill="none" />
<circle cx="505.40" cy="255.90" r="2.2" fill="none" stroke="#222" stroke-width="0.7"/>
<circle cx="542.10" cy="255.90" r="2.2" fill="none" stroke="#222" stroke-width="0.7"/>
<circle cx="505.40" cy="279.20" r="2.7" fill="none" stroke="#222" stroke-width="0.7"/>
<circle cx="542.10" cy="279.20" r="2.7" fill="none" stroke="#222" stroke-width="0.7"/>
<circle cx="509.60" cy="266.50" r="3.1" fill="none" stroke="#222" stroke-width="0.75"/>
<circle cx="524.20" cy="266.50" r="3.1" fill="none" stroke="#222" stroke-width="0.75"/>
<circle cx="538.90" cy="266.50" r="3.1" fill="none" stroke="#222" stroke-width="0.75"/>
<circle cx="527.80" cy="258.40" r="2.4" fill="#000"/>
<circle cx="518.00" cy="262.20" r="2.4" fill="#000"/>
<circle cx="515.40" cy="270.40" r="2.4" fill="#000"/>
<circle cx="505.60" cy="274.30" r="2.4" fill="#000"/>
<circle cx="535.00" cy="274.30" r="2.4" fill="#000"/>
<circle cx="544.80" cy="270.40" r="2.4" fill="#000"/>
<rect x="513.50" y="278.40" width="22.10" height="3.20" rx="1.5" fill="none" stroke="#444" stroke-width="0.7"/>
<rect x="522.20" y="278.90" width="4" height="2.6" fill="#000"/>
<use href="#isok" x="125.02" y="284.55"/>
<rect x="116.20" y="287.00" width="3.40" height="18.50" rx="1.6" fill="none" stroke="#555" stroke-width="0.7"/>
<rect x="151.30" y="287.00" width="4.50" height="18.50" rx="2" fill="none" stroke="#555" stroke-width="0.7"/>
<use href="#isok" x="161.65" y="284.55"/>
<use href="#isok" x="190.95" y="284.55"/>
<use href="#isok" x="220.25" y="284.55"/>
<use href="#isok" x="249.55" y="284.55"/>
<use href="#isok" x="278.85" y="284.55"/>
<use href="#isok" x="308.15" y="284.55"/>
<use href="#isok" x="337.45" y="284.55"/>
<use href="#isok" x="366.75" y="284.55"/>
<use href="#isok" x="396.05" y="284.55"/>
<use href="#isok" x="425.35" y="284.55"/>
<use href="#isok" x="454.65" y="284.55"/>
<use href="#isok" x="483.95" y="284.55"/>
<use href="#isok" x="520.58" y="284.55"/>
<rect x="513.50" y="285.40" width="3.40" height="20.80" rx="1.6" fill="none" stroke="#555" stroke-width="0.7"/>
<rect x="546.30" y="285.40" width="3.40" height="20.80" rx="1.6" fill="none" stroke="#555" stroke-width="0.7"/>
<use href="#isok" x="557.20" y="284.55"/>
<rect x="121.30" y="314.20" width="29.30" height="21.60" rx="2" fill="none" stroke="#444" stroke-width="0.8"/>
<circle cx="136.00" cy="317.00" r="2.4" fill="#000"/>
<circle cx="126.40" cy="320.60" r="2.4" fill="#000"/>
<circle cx="145.60" cy="329.00" r="2.4" fill="#000"/>
<circle cx="136.00" cy="332.60" r="2.4" fill="#000"/>
<circle cx="132.40" cy="325.40" r="3" fill="none" stroke="#222" stroke-width="0.75"/>
<circle cx="139.60" cy="325.40" r="3" fill="none" stroke="#222" stroke-width="0.75"/>
<circle cx="124.00" cy="325.40" r="1.1" fill="none" stroke="#222" stroke-width="0.7"/>
<circle cx="147.40" cy="324.80" r="1.1" fill="none" stroke="#222" stroke-width="0.7"/>
<rect x="122.10" y="330.40" width="5" height="4.4" fill="#000"/>
<rect x="155.40" y="314.20" width="9.10" height="21.80" rx="2.5" fill="none" stroke="#555" stroke-width="0.8"/>
<circle cx="158.5" cy="318" r="0.35" fill="#666"/><circle cx="161.5" cy="319" r="0.35" fill="#666"/>
<circle cx="158.5" cy="321" r="0.35" fill="#666"/><circle cx="161.5" cy="322" r="0.35" fill="#666"/>
<circle cx="158.5" cy="324" r="0.35" fill="#666"/><circle cx="161.5" cy="325" r="0.35" fill="#666"/>
<circle cx="158.5" cy="327" r="0.35" fill="#666"/><circle cx="161.5" cy="328" r="0.35" fill="#666"/>
<circle cx="158.5" cy="330" r="0.35" fill="#666"/><circle cx="161.5" cy="331" r="0.35" fill="#666"/>
<circle cx="158.5" cy="333" r="0.35" fill="#666"/><circle cx="161.5" cy="334" r="0.35" fill="#666"/>
<use href="#isok" x="168.97" y="313.90"/>
<use href="#isok" x="198.27" y="313.90"/>
<use href="#isok" x="227.57" y="313.90"/>
<use href="#isok" x="256.88" y="313.90"/>
<use href="#isok" x="286.17" y="313.90"/>
<use href="#isok" x="315.48" y="313.90"/>
<use href="#isok" x="344.77" y="313.90"/>
<use href="#isok" x="374.07" y="313.90"/>
<use href="#isok" x="403.38" y="313.90"/>
<use href="#isok" x="432.68" y="313.90"/>
<use href="#isok" x="461.98" y="313.90"/>
<rect x="489.10" y="315.00" width="3.10" height="21.00" rx="1.5" fill="none" stroke="#555" stroke-width="0.7"/>
<path d="M498.5,308.9 H508 Q509.6,308.9 509.6,310.5 V312.8 H531.7 V310.5 Q531.7,308.9 533.3,308.9 H543.2 Q545.4,308.9 545.4,311 V336.8 Q545.4,338.9 543.2,338.9 H498.5 Q496.3,338.9 496.3,336.8 V311 Q496.3,308.9 498.5,308.9 Z" stroke="#444" stroke-width="0.8" fill="none" />
<rect x="511.00" y="309.30" width="19.30" height="2.50" rx="1.2" fill="none" stroke="#555" stroke-width="0.6"/>
<circle cx="501.70" cy="312.10" r="2.4" fill="none" stroke="#222" stroke-width="0.7"/>
<circle cx="538.50" cy="312.10" r="2.4" fill="none" stroke="#222" stroke-width="0.7"/>
<circle cx="501.70" cy="335.60" r="2.4" fill="none" stroke="#222" stroke-width="0.7"/>
<circle cx="538.50" cy="335.60" r="2.4" fill="none" stroke="#222" stroke-width="0.7"/>
<circle cx="524.20" cy="317.00" r="2.4" fill="#000"/>
<circle cx="514.10" cy="320.90" r="2.4" fill="#000"/>
<circle cx="520.20" cy="324.80" r="3" fill="none" stroke="#222" stroke-width="0.75"/>
<circle cx="512.50" cy="324.80" r="1.1" fill="none" stroke="#222" stroke-width="0.7"/>
<circle cx="528.00" cy="324.80" r="1.1" fill="none" stroke="#222" stroke-width="0.7"/>
<rect x="517.70" y="330.40" width="5" height="4.4" fill="#000"/>
<use href="#isok" x="557.20" y="313.90"/>
<path d="M124.2,341.3 H133.5 Q135,341.3 135,343 V344.2 H158 V343 Q158,341.3 159.6,341.3 H169.9 Q171.9,341.3 171.9,343.3 V368.6 Q171.9,370.6 169.9,370.6 H124.2 Q122.2,370.6 122.2,368.6 V343.3 Q122.2,341.3 124.2,341.3 Z" stroke="#444" stroke-width="0.8" fill="none" />
<circle cx="128.20" cy="343.60" r="2.2" fill="none" stroke="#222" stroke-width="0.7"/>
<circle cx="164.70" cy="343.60" r="2.2" fill="none" stroke="#222" stroke-width="0.7"/>
<circle cx="128.20" cy="367.30" r="2.8" fill="none" stroke="#222" stroke-width="0.7"/>
<circle cx="164.70" cy="367.30" r="2.8" fill="none" stroke="#222" stroke-width="0.7"/>
<rect x="136.60" y="367.30" width="20.90" height="3.00" rx="1.5" fill="none" stroke="#555" stroke-width="0.7"/>
<circle cx="150.40" cy="346.60" r="2.4" fill="#000"/>
<circle cx="140.50" cy="350.00" r="2.4" fill="#000"/>
<circle cx="146.80" cy="354.10" r="3" fill="none" stroke="#222" stroke-width="0.75"/>
<circle cx="138.40" cy="354.10" r="1.1" fill="none" stroke="#222" stroke-width="0.7"/>
<rect x="153.6" y="353.1" width="2" height="2" fill="none" stroke="#333" stroke-width="0.6"/>
<rect x="144.00" y="360.00" width="5" height="4.4" fill="#000"/>
<rect x="175.50" y="343.40" width="3.00" height="22.10" rx="1.5" fill="none" stroke="#555" stroke-width="0.7"/>
<use href="#isok" x="183.62" y="343.25"/>
<use href="#isok" x="212.93" y="343.25"/>
<use href="#isok" x="242.22" y="343.25"/>
<use href="#isok" x="271.52" y="343.25"/>
<use href="#isok" x="300.82" y="343.25"/>
<use href="#isok" x="330.12" y="343.25"/>
<use href="#isok" x="359.42" y="343.25"/>
<use href="#isok" x="388.73" y="343.25"/>
<use href="#isok" x="418.02" y="343.25"/>
<use href="#isok" x="447.32" y="343.25"/>
<rect x="473.00" y="344.00" width="3.00" height="21.50" rx="1.5" fill="none" stroke="#555" stroke-width="0.7"/>
<rect x="480.20" y="344.00" width="3.00" height="21.50" rx="1.5" fill="none" stroke="#555" stroke-width="0.7"/>
<use href="#isok" x="487.61" y="343.25"/>
<rect x="512.80" y="344.00" width="3.00" height="21.50" rx="1.5" fill="none" stroke="#555" stroke-width="0.7"/>
<rect x="520.40" y="344.00" width="3.00" height="21.50" rx="1.5" fill="none" stroke="#555" stroke-width="0.7"/>
<use href="#isok" x="527.90" y="343.25"/>
<text x="559" y="365.8" font-size="6.9" font-weight="bold" fill="#111" textLength="24.8" lengthAdjust="spacing">ORCA</text>
<rect x="121.30" y="372.70" width="25.50" height="21.80" rx="2" fill="none" stroke="#444" stroke-width="0.8"/>
<circle cx="135.40" cy="375.70" r="2.4" fill="#000"/>
<circle cx="126.40" cy="379.70" r="2.4" fill="#000"/>
<circle cx="141.40" cy="387.70" r="2.4" fill="#000"/>
<circle cx="131.80" cy="391.30" r="2.4" fill="#000"/>
<text x="133.4" y="387.6" font-size="7" font-family="Liberation Serif" fill="#555">Dm</text>
<circle cx="124.00" cy="383.50" r="1.1" fill="none" stroke="#222" stroke-width="0.7"/>
<rect x="121.5" y="388" width="1.5" height="6" fill="#000"/>
<rect x="158.00" y="372.50" width="32.70" height="21.70" rx="2" fill="none" stroke="#444" stroke-width="0.8"/>
<circle cx="172.20" cy="376.00" r="2.4" fill="#000"/>
<circle cx="162.50" cy="379.40" r="2.4" fill="#000"/>
<circle cx="185.30" cy="387.40" r="2.4" fill="#000"/>
<circle cx="175.60" cy="391.30" r="2.4" fill="#000"/>
<ellipse cx="168.8" cy="383.4" rx="3.6" ry="2.8" fill="none" stroke="#222" stroke-width="0.75"/>
<ellipse cx="179" cy="383.4" rx="3.6" ry="2.8" fill="none" stroke="#222" stroke-width="0.75"/>
<circle cx="160.50" cy="383.90" r="1.1" fill="none" stroke="#222" stroke-width="0.7"/>
<circle cx="187.60" cy="383.90" r="1.1" fill="none" stroke="#222" stroke-width="0.7"/>
<rect x="158.60" y="389.10" width="4.4" height="4.4" fill="#000"/>
<path d="M196.4,372.5 H208.5 V369.4 Q208.5,367.4 210.5,367.4 H221 Q222.9,367.4 222.9,369.4 V394.5 Q222.9,396.5 221,396.5 H210 L208.5,394.2 H196.4 Q194.4,394.2 194.4,392.2 V374.5 Q194.4,372.5 196.4,372.5 Z" stroke="#444" stroke-width="0.8" fill="none" />
<circle cx="208.70" cy="376.00" r="2.4" fill="#000"/>
<circle cx="199.20" cy="379.40" r="2.4" fill="#000"/>
<circle cx="205.30" cy="383.40" r="3" fill="none" stroke="#222" stroke-width="0.75"/>
<circle cx="197.50" cy="383.90" r="1.1" fill="none" stroke="#222" stroke-width="0.7"/>
<circle cx="212.70" cy="383.90" r="1.1" fill="none" stroke="#222" stroke-width="0.7"/>
<rect x="203.10" y="389.10" width="4.4" height="4.4" fill="#000"/>
<circle cx="216.10" cy="370.80" r="2.5" fill="none" stroke="#222" stroke-width="0.7"/>
<circle cx="216.10" cy="395.00" r="1.9" fill="none" stroke="#222" stroke-width="0.7"/>
<path d="M233.5,367.4 H241 Q246,369.5 252.6,369 V394.5 Q252.6,396.5 250.6,396.5 H233.5 Q231.5,396.5 231.5,394.5 V369.4 Q231.5,367.4 233.5,367.4 Z" stroke="#444" stroke-width="0.8" fill="none" />
<circle cx="237.70" cy="370.80" r="2.6" fill="none" stroke="#222" stroke-width="0.7"/>
<circle cx="237.70" cy="395.00" r="1.9" fill="none" stroke="#222" stroke-width="0.7"/>
<rect x="261.00" y="372.50" width="117.70" height="22.00" rx="2.5" fill="none" stroke="#444" stroke-width="0.8"/>
<circle cx="308.00" cy="375.70" r="2.4" fill="#000"/>
<circle cx="298.20" cy="379.40" r="2.4" fill="#000"/>
<circle cx="320.60" cy="387.20" r="2.4" fill="#000"/>
<circle cx="311.20" cy="391.30" r="2.4" fill="#000"/>
<ellipse cx="303.9" cy="383.6" rx="3.4" ry="2.7" fill="none" stroke="#222" stroke-width="0.75"/>
<ellipse cx="314.7" cy="383.6" rx="3.4" ry="2.7" fill="none" stroke="#222" stroke-width="0.75"/>
<circle cx="296.50" cy="383.80" r="1.1" fill="none" stroke="#222" stroke-width="0.7"/>
<circle cx="322.50" cy="383.80" r="1.1" fill="none" stroke="#222" stroke-width="0.7"/>
<rect x="294.40" y="389.10" width="4.4" height="4.4" fill="#000"/>
<rect x="385.40" y="367.30" width="14.20" height="29.30" rx="2.5" fill="none" stroke="#444" stroke-width="0.8"/>
<circle cx="391.60" cy="370.60" r="2.4" fill="none" stroke="#222" stroke-width="0.7"/>
<circle cx="391.60" cy="394.50" r="1.9" fill="none" stroke="#222" stroke-width="0.7"/>
<use href="#isok" x="414.60" y="372.80"/>
<path d="M415.7,372.8 V369.5 Q415.7,368 417.2,368 H426.8 Q428.2,368 428.2,369.5 V372.8" stroke="#555" stroke-width="0.7" fill="none" />
<use href="#isok" x="449.50" y="372.80"/>
<rect x="447.20" y="372.80" width="25.40" height="22.30" rx="2" fill="none" stroke="#444" stroke-width="0.8"/>
<rect x="477.40" y="375.00" width="3.00" height="19.50" rx="1.5" fill="none" stroke="#555" stroke-width="0.7"/>
<use href="#isok" x="498.60" y="372.60"/>
<use href="#isok" x="527.90" y="372.60"/>
<use href="#isok" x="557.20" y="372.60"/>
<circle cx="443.50" cy="404.30" r="3.1" fill="none" stroke="#222" stroke-width="0.8"/>
<circle cx="443.50" cy="404.30" r="1.5" fill="none" stroke="#222" stroke-width="0.7"/>
</g>
<path d="M500.4,255.2 H549.2" stroke="#111" stroke-width="3.8" stroke-dasharray="1.4 0.6" fill="none" style="vector-effect:none"/>
<path d="M500.4,256.1 V282.0" stroke="#222" stroke-width="2.6" stroke-dasharray="1.4 0.7" fill="none" style="vector-effect:none"/>
<path d="M497.8,311.0 H544.9" stroke="#111" stroke-width="3.8" stroke-dasharray="1.4 0.6" fill="none" style="vector-effect:none"/>
<path d="M497.8,311.9 V338.4" stroke="#222" stroke-width="2.6" stroke-dasharray="1.4 0.7" fill="none" style="vector-effect:none"/>
<path d="M122.8,316.3 H150.1" stroke="#111" stroke-width="3.8" stroke-dasharray="1.4 0.6" fill="none" style="vector-effect:none"/>
<path d="M122.8,317.2 V335.3" stroke="#222" stroke-width="2.6" stroke-dasharray="1.4 0.7" fill="none" style="vector-effect:none"/>
<path d="M123.7,343.40000000000003 H171.4" stroke="#111" stroke-width="3.8" stroke-dasharray="1.4 0.6" fill="none" style="vector-effect:none"/>
<path d="M123.7,344.3 V370.1" stroke="#222" stroke-width="2.6" stroke-dasharray="1.4 0.7" fill="none" style="vector-effect:none"/>
<path d="M122.8,374.8 H146.3" stroke="#111" stroke-width="3.8" stroke-dasharray="1.4 0.6" fill="none" style="vector-effect:none"/>
<path d="M122.8,375.7 V394.0" stroke="#222" stroke-width="2.6" stroke-dasharray="1.4 0.7" fill="none" style="vector-effect:none"/>
<path d="M159.5,374.6 H190.2" stroke="#111" stroke-width="3.8" stroke-dasharray="1.4 0.6" fill="none" style="vector-effect:none"/>
<path d="M159.5,375.5 V393.7" stroke="#222" stroke-width="2.6" stroke-dasharray="1.4 0.7" fill="none" style="vector-effect:none"/>
<path d="M195.9,374.6 H222.4" stroke="#111" stroke-width="3.8" stroke-dasharray="1.4 0.6" fill="none" style="vector-effect:none"/>
<path d="M195.9,375.5 V396.0" stroke="#222" stroke-width="2.6" stroke-dasharray="1.4 0.7" fill="none" style="vector-effect:none"/>
<path d="M233.0,369.5 H252.1" stroke="#111" stroke-width="3.8" stroke-dasharray="1.4 0.6" fill="none" style="vector-effect:none"/>
<path d="M233.0,370.4 V396.0" stroke="#222" stroke-width="2.6" stroke-dasharray="1.4 0.7" fill="none" style="vector-effect:none"/>
<path d="M262.5,374.6 H378.2" stroke="#111" stroke-width="3.8" stroke-dasharray="1.4 0.6" fill="none" style="vector-effect:none"/>
<path d="M262.5,375.5 V394.0" stroke="#222" stroke-width="2.6" stroke-dasharray="1.4 0.7" fill="none" style="vector-effect:none"/>
<path d="M386.9,369.40000000000003 H399.1" stroke="#111" stroke-width="3.8" stroke-dasharray="1.4 0.6" fill="none" style="vector-effect:none"/>
<path d="M386.9,370.3 V396.1" stroke="#222" stroke-width="2.6" stroke-dasharray="1.4 0.7" fill="none" style="vector-effect:none"/>
<rect x="167" y="246" width="10" height="7" fill="#777" stroke="#111" stroke-width="1.2"/>
<rect x="285.5" y="246" width="9.5" height="7" fill="#777" stroke="#111" stroke-width="1.2"/>
<rect x="402.5" y="246" width="9.5" height="7" fill="#777" stroke="#111" stroke-width="1.2"/>
<rect x="519.5" y="246" width="10.0" height="7" fill="#777" stroke="#111" stroke-width="1.2"/>
<rect x="116.2" y="287" width="3.4" height="18.5" fill="#888" style="vector-effect:none"/>
<rect x="151.3" y="287" width="4.5" height="18.5" fill="#888" style="vector-effect:none"/>
<rect x="513.5" y="285.4" width="3.4" height="20.8" fill="#888" style="vector-effect:none"/>
<rect x="546.3" y="285.4" width="3.4" height="20.8" fill="#888" style="vector-effect:none"/>
<rect x="155.4" y="314.2" width="9.1" height="21.8" fill="#888" style="vector-effect:none"/>
<rect x="489.1" y="315" width="3.1" height="21.0" fill="#888" style="vector-effect:none"/>
<rect x="175.5" y="343.4" width="3.0" height="22.1" fill="#888" style="vector-effect:none"/>
<rect x="473" y="344" width="3.0" height="21.5" fill="#888" style="vector-effect:none"/>
<rect x="480.2" y="344" width="3.0" height="21.5" fill="#888" style="vector-effect:none"/>
<rect x="512.8" y="344" width="3.0" height="21.5" fill="#888" style="vector-effect:none"/>
<rect x="520.4" y="344" width="3.0" height="21.5" fill="#888" style="vector-effect:none"/>
<rect x="477.4" y="375" width="3.0" height="19.5" fill="#888" style="vector-effect:none"/>
</g>
<g id="isocase">
<path d="M684.4,563.8 L933,708.8" stroke="#222" stroke-width="1.2" fill="none" />
<path d="M684.4,572.3 L931,715" stroke="#444" stroke-width="0.8" fill="none" />
<path d="M684.4,564 C686,566.5 685,570.5 683.8,574.5" stroke="#111" stroke-width="1.4" fill="none" />
<path d="M683.8,574.5 L929,716.5" stroke="#000" stroke-width="1.8" fill="none" />
<path d="M677.9,581.7 L945.2,733.5" stroke="#333" stroke-width="0.8" fill="none" />
<path d="M677.9,560.9 C674,562 672,565 672,568.5 V576 C672,579 674.5,581.2 677.9,581.7" stroke="#333" stroke-width="0.9" fill="none" />
<path d="M677.9,560.9 L684.4,563.8" stroke="#333" stroke-width="0.9" fill="none" />
<path d="M672.3,565.8 L678.8,567.6" stroke="#333" stroke-width="0.8" fill="none" />
<line x1="678.80" y1="567.60" x2="678.80" y2="581.70" stroke="#444" stroke-width="0.8"/>
<path d="M678.8,567.6 C681,566.5 683,565 684.4,563.8" stroke="#444" stroke-width="0.7" fill="none" />
<path d="M933,708.8 C941,716 949,725 955.2,734.5" stroke="#222" stroke-width="0.9" fill="none" />
<path d="M955.2,734.5 C962,722 972,710 982.8,704 C995,697 1010,695 1019.2,699.3 L1023.9,702.2 L1037.4,698.1" stroke="#111" stroke-width="1.0" fill="none" />
<path d="M1027.4,658.2 C1032,661 1036,668 1036.5,675 L1037.4,698.1" stroke="#222" stroke-width="0.9" fill="none" />
<path d="M1029.5,660.5 C1033,664 1034.5,670 1035,676 L1035.6,697" stroke="#666" stroke-width="0.6" fill="none" />
<path d="M955.2,734.5 C960,718 972,703 986.3,694.6 C1000,687 1018,685 1031,691 L1035.6,697" stroke="#222" stroke-width="0.9" fill="none" />
<path d="M965.2,720.4 C975,710 990,704 1005,702 L1021.5,701.6" stroke="#888" stroke-width="0.6" fill="none" />
<path d="M935.9,709.9 V729.8" stroke="#555" stroke-width="0.7" fill="none" />
<path d="M930,727.5 C940,730 948,733 955.2,734.5" stroke="#444" stroke-width="0.7" fill="none" />
<path d="M936.5,712 L1027.4,658.2" stroke="#222" stroke-width="0.9" fill="none" />
<path d="M938,715 L1028.5,661.5" stroke="#666" stroke-width="1.8" fill="none" stroke-dasharray="0.8 0.8"/>
</g>
</svg></body></html>
